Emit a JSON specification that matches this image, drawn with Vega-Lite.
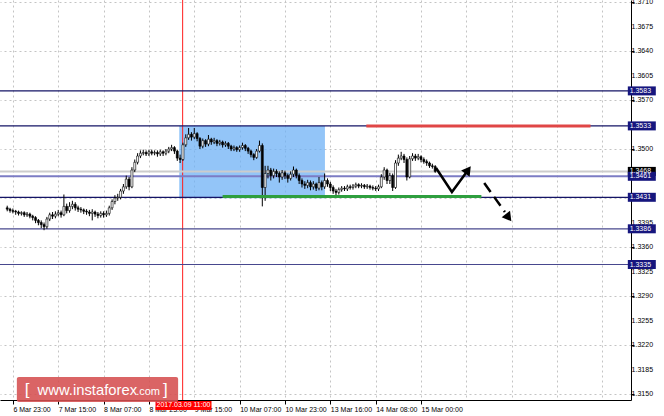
{
  "$schema": "https://vega.github.io/schema/vega-lite/v6.json",
  "width": 631,
  "height": 400,
  "autosize": {"type": "none"},
  "padding": {"left": 0, "top": 0, "right": 33, "bottom": 16},
  "background": "white",
  "config": {
    "view": {"stroke": null},
    "axis": {"title": null, "labelFont": "Liberation Sans", "labelFontSize": 7, "labelColor": "#000000", "domainColor": "#000000", "tickColor": "#000000", "gridColor": "#c4c4c4", "gridDash": [2, 3], "gridWidth": 1, "labelOverlap": false, "labelBound": false, "labelFlush": false}
  },
  "datasets": {
    "candles": [
      {"t":-2,"o":1.3416,"h":1.3419,"l":1.3411,"c":1.3414},
      {"t":-1,"o":1.3414,"h":1.3416,"l":1.3409,"c":1.3412},
      {"t":0,"o":1.3412,"h":1.3415,"l":1.3408,"c":1.3411},
      {"t":1,"o":1.3411,"h":1.3413,"l":1.3406,"c":1.3410},
      {"t":2,"o":1.3410,"h":1.3412,"l":1.3405,"c":1.3408},
      {"t":3,"o":1.3408,"h":1.3411,"l":1.3405,"c":1.3409},
      {"t":4,"o":1.3409,"h":1.3411,"l":1.3403,"c":1.3406},
      {"t":5,"o":1.3406,"h":1.3410,"l":1.3403,"c":1.3407},
      {"t":6,"o":1.3407,"h":1.3409,"l":1.3401,"c":1.3404},
      {"t":7,"o":1.3404,"h":1.3406,"l":1.3398,"c":1.3402},
      {"t":8,"o":1.3402,"h":1.3404,"l":1.3394,"c":1.3398},
      {"t":9,"o":1.3398,"h":1.3400,"l":1.3391,"c":1.3395},
      {"t":10,"o":1.3395,"h":1.3398,"l":1.3387,"c":1.3392},
      {"t":11,"o":1.3392,"h":1.3395,"l":1.3384,"c":1.3389},
      {"t":12,"o":1.3389,"h":1.3403,"l":1.3386,"c":1.3400},
      {"t":13,"o":1.3400,"h":1.3409,"l":1.3397,"c":1.3406},
      {"t":14,"o":1.3406,"h":1.3410,"l":1.3400,"c":1.3404},
      {"t":15,"o":1.3404,"h":1.3411,"l":1.3401,"c":1.3407},
      {"t":16,"o":1.3407,"h":1.3413,"l":1.3404,"c":1.3409},
      {"t":17,"o":1.3409,"h":1.3412,"l":1.3402,"c":1.3406},
      {"t":18,"o":1.3406,"h":1.3435,"l":1.3404,"c":1.3418},
      {"t":19,"o":1.3418,"h":1.3422,"l":1.3408,"c":1.3412},
      {"t":20,"o":1.3412,"h":1.3424,"l":1.3409,"c":1.3418},
      {"t":21,"o":1.3418,"h":1.3426,"l":1.3414,"c":1.3421},
      {"t":22,"o":1.3421,"h":1.3424,"l":1.3412,"c":1.3416},
      {"t":23,"o":1.3416,"h":1.3419,"l":1.3410,"c":1.3414},
      {"t":24,"o":1.3414,"h":1.3417,"l":1.3409,"c":1.3413},
      {"t":25,"o":1.3413,"h":1.3415,"l":1.3407,"c":1.3411},
      {"t":26,"o":1.3411,"h":1.3414,"l":1.3406,"c":1.3410},
      {"t":27,"o":1.3410,"h":1.3413,"l":1.3404,"c":1.3408},
      {"t":28,"o":1.3408,"h":1.3414,"l":1.3398,"c":1.3410},
      {"t":29,"o":1.3410,"h":1.3412,"l":1.3403,"c":1.3407},
      {"t":30,"o":1.3407,"h":1.3410,"l":1.3401,"c":1.3405},
      {"t":31,"o":1.3405,"h":1.3411,"l":1.3402,"c":1.3408},
      {"t":32,"o":1.3408,"h":1.3411,"l":1.3402,"c":1.3406},
      {"t":33,"o":1.3406,"h":1.3412,"l":1.3403,"c":1.3408},
      {"t":34,"o":1.3408,"h":1.3419,"l":1.3405,"c":1.3416},
      {"t":35,"o":1.3416,"h":1.3428,"l":1.3413,"c":1.3425},
      {"t":36,"o":1.3425,"h":1.3434,"l":1.3421,"c":1.3430},
      {"t":37,"o":1.3430,"h":1.3436,"l":1.3426,"c":1.3431},
      {"t":38,"o":1.3431,"h":1.3443,"l":1.3428,"c":1.3440},
      {"t":39,"o":1.3440,"h":1.3450,"l":1.3436,"c":1.3446},
      {"t":40,"o":1.3446,"h":1.3462,"l":1.3443,"c":1.3457},
      {"t":41,"o":1.3457,"h":1.3460,"l":1.3441,"c":1.3446},
      {"t":42,"o":1.3446,"h":1.3474,"l":1.3444,"c":1.3470},
      {"t":43,"o":1.3470,"h":1.3485,"l":1.3467,"c":1.3481},
      {"t":44,"o":1.3481,"h":1.3494,"l":1.3478,"c":1.3490},
      {"t":45,"o":1.3490,"h":1.3498,"l":1.3487,"c":1.3494},
      {"t":46,"o":1.3494,"h":1.3499,"l":1.3491,"c":1.3495},
      {"t":47,"o":1.3495,"h":1.3498,"l":1.3490,"c":1.3493},
      {"t":48,"o":1.3493,"h":1.3499,"l":1.3490,"c":1.3496},
      {"t":49,"o":1.3496,"h":1.3499,"l":1.3491,"c":1.3494},
      {"t":50,"o":1.3494,"h":1.3498,"l":1.3491,"c":1.3495},
      {"t":51,"o":1.3495,"h":1.3498,"l":1.3489,"c":1.3493},
      {"t":52,"o":1.3493,"h":1.3499,"l":1.3490,"c":1.3496},
      {"t":53,"o":1.3496,"h":1.3498,"l":1.3490,"c":1.3494},
      {"t":54,"o":1.3494,"h":1.3500,"l":1.3491,"c":1.3497},
      {"t":55,"o":1.3497,"h":1.3503,"l":1.3494,"c":1.3500},
      {"t":56,"o":1.3500,"h":1.3506,"l":1.3497,"c":1.3502},
      {"t":57,"o":1.3502,"h":1.3504,"l":1.3493,"c":1.3497},
      {"t":58,"o":1.3497,"h":1.3499,"l":1.3483,"c":1.3487},
      {"t":59,"o":1.3487,"h":1.3492,"l":1.3480,"c":1.3485},
      {"t":60,"o":1.3485,"h":1.3509,"l":1.3483,"c":1.3506},
      {"t":61,"o":1.3506,"h":1.3521,"l":1.3503,"c":1.3516},
      {"t":62,"o":1.3516,"h":1.3530,"l":1.3513,"c":1.3521},
      {"t":63,"o":1.3521,"h":1.3524,"l":1.3512,"c":1.3517},
      {"t":64,"o":1.3517,"h":1.3530,"l":1.3514,"c":1.3522},
      {"t":65,"o":1.3522,"h":1.3524,"l":1.3511,"c":1.3515},
      {"t":66,"o":1.3515,"h":1.3517,"l":1.3500,"c":1.3504},
      {"t":67,"o":1.3504,"h":1.3515,"l":1.3501,"c":1.3512},
      {"t":68,"o":1.3512,"h":1.3514,"l":1.3503,"c":1.3507},
      {"t":69,"o":1.3507,"h":1.3520,"l":1.3504,"c":1.3514},
      {"t":70,"o":1.3514,"h":1.3516,"l":1.3506,"c":1.3510},
      {"t":71,"o":1.3510,"h":1.3516,"l":1.3507,"c":1.3512},
      {"t":72,"o":1.3512,"h":1.3514,"l":1.3504,"c":1.3508},
      {"t":73,"o":1.3508,"h":1.3513,"l":1.3505,"c":1.3510},
      {"t":74,"o":1.3510,"h":1.3512,"l":1.3502,"c":1.3506},
      {"t":75,"o":1.3506,"h":1.3511,"l":1.3503,"c":1.3508},
      {"t":76,"o":1.3508,"h":1.3510,"l":1.3500,"c":1.3504},
      {"t":77,"o":1.3504,"h":1.3506,"l":1.3497,"c":1.3500},
      {"t":78,"o":1.3500,"h":1.3505,"l":1.3497,"c":1.3502},
      {"t":79,"o":1.3502,"h":1.3504,"l":1.3496,"c":1.3499},
      {"t":80,"o":1.3499,"h":1.3505,"l":1.3496,"c":1.3502},
      {"t":81,"o":1.3502,"h":1.3509,"l":1.3499,"c":1.3505},
      {"t":82,"o":1.3505,"h":1.3507,"l":1.3497,"c":1.3501},
      {"t":83,"o":1.3501,"h":1.3503,"l":1.3493,"c":1.3497},
      {"t":84,"o":1.3497,"h":1.3499,"l":1.3488,"c":1.3492},
      {"t":85,"o":1.3492,"h":1.3494,"l":1.3484,"c":1.3488},
      {"t":86,"o":1.3488,"h":1.3500,"l":1.3486,"c":1.3497},
      {"t":87,"o":1.3497,"h":1.3512,"l":1.3495,"c":1.3505},
      {"t":88,"o":1.3505,"h":1.3508,"l":1.3418,"c":1.3445},
      {"t":89,"o":1.3445,"h":1.3476,"l":1.3426,"c":1.3465},
      {"t":90,"o":1.3465,"h":1.3476,"l":1.3458,"c":1.3470},
      {"t":91,"o":1.3470,"h":1.3473,"l":1.3455,"c":1.3462},
      {"t":92,"o":1.3462,"h":1.3472,"l":1.3458,"c":1.3468},
      {"t":93,"o":1.3468,"h":1.3471,"l":1.3460,"c":1.3465},
      {"t":94,"o":1.3465,"h":1.3468,"l":1.3452,"c":1.3460},
      {"t":95,"o":1.3460,"h":1.3470,"l":1.3456,"c":1.3466},
      {"t":96,"o":1.3466,"h":1.3469,"l":1.3457,"c":1.3462},
      {"t":97,"o":1.3462,"h":1.3465,"l":1.3452,"c":1.3458},
      {"t":98,"o":1.3458,"h":1.3468,"l":1.3455,"c":1.3464},
      {"t":99,"o":1.3464,"h":1.3475,"l":1.3460,"c":1.3470},
      {"t":100,"o":1.3470,"h":1.3472,"l":1.3458,"c":1.3462},
      {"t":101,"o":1.3462,"h":1.3465,"l":1.3450,"c":1.3455},
      {"t":102,"o":1.3455,"h":1.3458,"l":1.3445,"c":1.3450},
      {"t":103,"o":1.3450,"h":1.3454,"l":1.3443,"c":1.3448},
      {"t":104,"o":1.3448,"h":1.3456,"l":1.3444,"c":1.3452},
      {"t":105,"o":1.3452,"h":1.3455,"l":1.3441,"c":1.3446},
      {"t":106,"o":1.3446,"h":1.3454,"l":1.3442,"c":1.3450},
      {"t":107,"o":1.3450,"h":1.3452,"l":1.3440,"c":1.3444},
      {"t":108,"o":1.3444,"h":1.3460,"l":1.3441,"c":1.3452},
      {"t":109,"o":1.3452,"h":1.3455,"l":1.3441,"c":1.3446},
      {"t":110,"o":1.3446,"h":1.3465,"l":1.3443,"c":1.3455},
      {"t":111,"o":1.3455,"h":1.3458,"l":1.3446,"c":1.3450},
      {"t":112,"o":1.3450,"h":1.3453,"l":1.3440,"c":1.3445},
      {"t":113,"o":1.3445,"h":1.3448,"l":1.3436,"c":1.3440},
      {"t":114,"o":1.3440,"h":1.3443,"l":1.3433,"c":1.3438},
      {"t":115,"o":1.3438,"h":1.3445,"l":1.3435,"c":1.3442},
      {"t":116,"o":1.3442,"h":1.3447,"l":1.3439,"c":1.3444},
      {"t":117,"o":1.3444,"h":1.3447,"l":1.3440,"c":1.3443},
      {"t":118,"o":1.3443,"h":1.3449,"l":1.3440,"c":1.3446},
      {"t":119,"o":1.3446,"h":1.3449,"l":1.3442,"c":1.3445},
      {"t":120,"o":1.3445,"h":1.3450,"l":1.3442,"c":1.3447},
      {"t":121,"o":1.3447,"h":1.3452,"l":1.3444,"c":1.3449},
      {"t":122,"o":1.3449,"h":1.3451,"l":1.3444,"c":1.3447},
      {"t":123,"o":1.3447,"h":1.3451,"l":1.3444,"c":1.3448},
      {"t":124,"o":1.3448,"h":1.3450,"l":1.3443,"c":1.3446},
      {"t":125,"o":1.3446,"h":1.3450,"l":1.3443,"c":1.3447},
      {"t":126,"o":1.3447,"h":1.3449,"l":1.3442,"c":1.3445},
      {"t":127,"o":1.3445,"h":1.3448,"l":1.3441,"c":1.3444},
      {"t":128,"o":1.3444,"h":1.3447,"l":1.3440,"c":1.3443},
      {"t":129,"o":1.3443,"h":1.3449,"l":1.3440,"c":1.3446},
      {"t":130,"o":1.3446,"h":1.3464,"l":1.3444,"c":1.3460},
      {"t":131,"o":1.3460,"h":1.3474,"l":1.3456,"c":1.3470},
      {"t":132,"o":1.3470,"h":1.3472,"l":1.3450,"c":1.3455},
      {"t":133,"o":1.3455,"h":1.3466,"l":1.3450,"c":1.3462},
      {"t":134,"o":1.3462,"h":1.3465,"l":1.3440,"c":1.3445},
      {"t":135,"o":1.3445,"h":1.3484,"l":1.3443,"c":1.3480},
      {"t":136,"o":1.3480,"h":1.3492,"l":1.3476,"c":1.3487},
      {"t":137,"o":1.3487,"h":1.3496,"l":1.3484,"c":1.3490},
      {"t":138,"o":1.3490,"h":1.3493,"l":1.3480,"c":1.3485},
      {"t":139,"o":1.3485,"h":1.3488,"l":1.3455,"c":1.3460},
      {"t":140,"o":1.3460,"h":1.3490,"l":1.3458,"c":1.3486},
      {"t":141,"o":1.3486,"h":1.3494,"l":1.3483,"c":1.3490},
      {"t":142,"o":1.3490,"h":1.3493,"l":1.3483,"c":1.3487},
      {"t":143,"o":1.3487,"h":1.3493,"l":1.3484,"c":1.3489},
      {"t":144,"o":1.3489,"h":1.3491,"l":1.3481,"c":1.3485},
      {"t":145,"o":1.3485,"h":1.3488,"l":1.3479,"c":1.3482},
      {"t":146,"o":1.3482,"h":1.3485,"l":1.3476,"c":1.3480},
      {"t":147,"o":1.3480,"h":1.3482,"l":1.3473,"c":1.3476},
      {"t":148,"o":1.3476,"h":1.3479,"l":1.3472,"c":1.3475},
      {"t":149,"o":1.3475,"h":1.3477,"l":1.3466,"c":1.3468}
    ],
    "yticks": [
      {"v":1.3150},{"v":1.3185},{"v":1.3220},{"v":1.3255},{"v":1.3290},{"v":1.3325},{"v":1.3360},{"v":1.3395},
      {"v":1.3500},{"v":1.3570},{"v":1.3605},{"v":1.3640},{"v":1.3675},{"v":1.3710}
    ],
    "levels": [
      {"p":1.3583,"lbl":"1.3583","k":"L1"},
      {"p":1.3533,"lbl":"1.3533","k":"L1"},
      {"p":1.3468,"lbl":"1.3468","k":"bid"},
      {"p":1.3461,"lbl":"1.3461","k":"L2"},
      {"p":1.3431,"lbl":"1.3431","k":"L1"},
      {"p":1.3386,"lbl":"1.3386","k":"L3"},
      {"p":1.3335,"lbl":"1.3335","k":"L3"}
    ],
    "segs": [
      {"k":"r","x1":124.7,"x2":203.8,"p":1.3533},
      {"k":"g","x1":74.0,"x2":165.3,"p":1.3432}
    ],
    "arrowUp": [
      {"i":1,"t":149.3,"p":1.34729},
      {"i":2,"t":154.9,"p":1.34386},
      {"i":3,"t":160.1,"p":1.34671}
    ],
    "arrowDown": [
      {"i":1,"t":166.3,"p":1.34514},
      {"i":2,"t":173.6,"p":1.34100}
    ],
    "one": [{}]
  },
  "layer": [
    {
      "data": {"name": "one"},
      "mark": {"type": "rect", "color": "#6fb1f6", "opacity": 0.75},
      "encoding": {
        "x": {"datum": 58.7, "scale": {"domain": [-2.78, 216.32], "nice": false, "zero": false}},
        "x2": {"datum": 110.1},
        "y": {"datum": 1.3533, "scale": {"domain": [1.314143, 1.371286], "nice": false, "zero": false}},
        "y2": {"datum": 1.34295}
      }
    },
    {
      "data": {"name": "one"},
      "mark": {"type": "rule", "color": "#ff1e1e", "strokeWidth": 1},
      "encoding": {
        "x": {"datum": 59.9, "scale": {"domain": [-2.78, 216.32], "nice": false, "zero": false}}
      }
    },
    {
      "data": {"name": "levels"},
      "mark": {"type": "rule"},
      "encoding": {
        "y": {"field": "p", "type": "quantitative", "scale": {"domain": [1.314143, 1.371286], "nice": false, "zero": false}},
        "color": {"condition": [{"test": "datum.k === 'L2'", "value": "#7c7cc4"}, {"test": "datum.k === 'bid'", "value": "#cccccc"}, {"test": "datum.k === 'L3'", "value": "#48488e"}], "value": "#141466"},
        "strokeWidth": {"condition": [{"test": "datum.k === 'L2'", "value": 2}, {"test": "datum.k === 'bid'", "value": 2}], "value": 1.2}
      }
    },
    {
      "data": {"name": "candles"},
      "mark": {"type": "rule", "color": "#000000", "strokeWidth": 1},
      "encoding": {
        "x": {"field": "t", "type": "quantitative", "scale": {"domain": [-2.78, 216.32], "nice": false, "zero": false},
          "axis": {
            "orient": "bottom",
            "values": [0,8,16,24,32,40,48,56,64,72,80,88,96,104,112,120,128,136,144,152,160,168,176,184,192,200,208,216],
            "labelExpr": "(datum.value % 16 === 0 && datum.value <= 144) ? ['6 Mar 23:00','7 Mar 15:00','8 Mar 07:00','8 Mar 23:00','9 Mar 15:00','10 Mar 07:00','10 Mar 23:00','13 Mar 16:00','14 Mar 08:00','15 Mar 00:00'][datum.value / 16] : ''",
            "grid": true,
            "tickSize": 4,
            "tickOpacity": {"condition": {"test": "datum.value % 16 === 0 && datum.value <= 144", "value": 1}, "value": 0},
            "labelAlign": "left",
            "labelBaseline": "top",
            "labelPadding": 1
          }
        },
        "y": {"field": "l", "type": "quantitative", "scale": {"domain": [1.314143, 1.371286], "nice": false, "zero": false},
          "axis": {
            "orient": "right",
            "values": [1.315, 1.3185, 1.322, 1.3255, 1.329, 1.3325, 1.336, 1.3395, 1.343, 1.3465, 1.35, 1.3535, 1.357, 1.3605, 1.364, 1.3675, 1.371],
            "labels": false,
            "grid": true,
            "tickSize": 3
          }
        },
        "y2": {"field": "h"}
      }
    },
    {
      "data": {"name": "candles"},
      "mark": {"type": "bar", "size": 2, "stroke": "#000000", "strokeWidth": 0.6},
      "encoding": {
        "x": {"field": "t", "type": "quantitative", "scale": {"domain": [-2.78, 216.32], "nice": false, "zero": false}},
        "y": {"field": "o", "type": "quantitative", "scale": {"domain": [1.314143, 1.371286], "nice": false, "zero": false}},
        "y2": {"field": "c"},
        "fill": {"condition": {"test": "datum.c >= datum.o", "value": "#ffffff"}, "value": "#000000"}
      }
    },
    {
      "data": {"name": "segs"},
      "mark": {"type": "rule", "strokeWidth": 3},
      "encoding": {
        "x": {"field": "x1", "type": "quantitative", "scale": {"domain": [-2.78, 216.32], "nice": false, "zero": false}},
        "x2": {"field": "x2"},
        "y": {"field": "p", "type": "quantitative", "scale": {"domain": [1.314143, 1.371286], "nice": false, "zero": false}},
        "color": {"condition": {"test": "datum.k === 'r'", "value": "#e04646"}, "value": "#2e9e3e"}
      }
    },
    {
      "data": {"name": "arrowUp"},
      "mark": {"type": "line", "color": "#000000", "strokeWidth": 2.5},
      "encoding": {
        "x": {"field": "t", "type": "quantitative", "scale": {"domain": [-2.78, 216.32], "nice": false, "zero": false}},
        "y": {"field": "p", "type": "quantitative", "scale": {"domain": [1.314143, 1.371286], "nice": false, "zero": false}},
        "order": {"field": "i"}
      }
    },
    {
      "data": {"name": "arrowDown"},
      "mark": {"type": "line", "color": "#000000", "strokeWidth": 2.5, "strokeDash": [11, 6]},
      "encoding": {
        "x": {"field": "t", "type": "quantitative", "scale": {"domain": [-2.78, 216.32], "nice": false, "zero": false}},
        "y": {"field": "p", "type": "quantitative", "scale": {"domain": [1.314143, 1.371286], "nice": false, "zero": false}},
        "order": {"field": "i"}
      }
    },
    {
      "data": {"name": "one"},
      "mark": {"type": "point", "shape": "triangle-up", "angle": 36, "size": 110, "filled": true, "color": "#000000", "opacity": 1},
      "encoding": {
        "x": {"datum": 160.6, "scale": {"domain": [-2.78, 216.32], "nice": false, "zero": false}},
        "y": {"datum": 1.34700, "scale": {"domain": [1.314143, 1.371286], "nice": false, "zero": false}}
      }
    },
    {
      "data": {"name": "one"},
      "mark": {"type": "point", "shape": "triangle-up", "angle": 143, "size": 110, "filled": true, "color": "#000000", "opacity": 1},
      "encoding": {
        "x": {"datum": 174.9, "scale": {"domain": [-2.78, 216.32], "nice": false, "zero": false}},
        "y": {"datum": 1.34020, "scale": {"domain": [1.314143, 1.371286], "nice": false, "zero": false}}
      }
    },
    {
      "data": {"name": "yticks"},
      "mark": {"type": "text", "align": "left", "baseline": "middle", "font": "Liberation Sans", "fontSize": 7, "color": "#000000"},
      "encoding": {
        "x": {"datum": 218.3, "scale": {"domain": [-2.78, 216.32], "nice": false, "zero": false}},
        "y": {"field": "v", "type": "quantitative", "scale": {"domain": [1.314143, 1.371286], "nice": false, "zero": false}},
        "text": {"field": "v", "type": "quantitative", "format": ".4f"}
      }
    },
    {
      "data": {"name": "levels"},
      "mark": {"type": "tick", "orient": "horizontal", "size": 28, "thickness": 9, "opacity": 1},
      "encoding": {
        "x": {"datum": 221.9, "scale": {"domain": [-2.78, 216.32], "nice": false, "zero": false}},
        "y": {"field": "p", "type": "quantitative", "scale": {"domain": [1.314143, 1.371286], "nice": false, "zero": false}},
        "color": {"condition": {"test": "datum.k === 'bid'", "value": "#000000"}, "value": "#16167e"}
      }
    },
    {
      "data": {"name": "levels"},
      "mark": {"type": "text", "align": "left", "baseline": "middle", "font": "Liberation Sans", "fontSize": 7, "color": "#ffffff"},
      "encoding": {
        "x": {"datum": 217.6, "scale": {"domain": [-2.78, 216.32], "nice": false, "zero": false}},
        "y": {"field": "p", "type": "quantitative", "scale": {"domain": [1.314143, 1.371286], "nice": false, "zero": false}},
        "text": {"field": "lbl"}
      }
    },
    {
      "data": {"name": "one"},
      "mark": {"type": "tick", "orient": "horizontal", "size": 56, "thickness": 9, "opacity": 1, "color": "#ff0000"},
      "encoding": {
        "x": {"datum": 60.2, "scale": {"domain": [-2.78, 216.32], "nice": false, "zero": false}},
        "y": {"datum": 1.31336, "scale": {"domain": [1.314143, 1.371286], "nice": false, "zero": false}}
      }
    },
    {
      "data": {"name": "one"},
      "mark": {"type": "text", "align": "center", "baseline": "middle", "font": "Liberation Sans", "fontSize": 7, "color": "#ffffff", "text": "2017.03.09 11:00"},
      "encoding": {
        "x": {"datum": 60.2, "scale": {"domain": [-2.78, 216.32], "nice": false, "zero": false}},
        "y": {"datum": 1.31336, "scale": {"domain": [1.314143, 1.371286], "nice": false, "zero": false}}
      }
    },
    {
      "data": {"name": "one"},
      "mark": {"type": "rect", "color": "#d54e50", "opacity": 0.88, "cornerRadius": 2},
      "encoding": {
        "x": {"datum": 1.4, "scale": {"domain": [-2.78, 216.32], "nice": false, "zero": false}},
        "x2": {"datum": 58.3},
        "y": {"datum": 1.31743, "scale": {"domain": [1.314143, 1.371286], "nice": false, "zero": false}},
        "y2": {"datum": 1.31386}
      }
    },
    {
      "data": {"name": "one"},
      "mark": {"type": "text", "align": "left", "baseline": "alphabetic", "font": "Liberation Sans", "fontSize": 17, "color": "#ffffff", "text": "["},
      "encoding": {
        "x": {"datum": 4.2, "scale": {"domain": [-2.78, 216.32], "nice": false, "zero": false}},
        "y": {"datum": 1.31485, "scale": {"domain": [1.314143, 1.371286], "nice": false, "zero": false}}
      }
    },
    {
      "data": {"name": "one"},
      "mark": {"type": "text", "align": "left", "baseline": "alphabetic", "font": "Liberation Sans", "fontSize": 14.8, "color": "#ffffff", "text": "www.instaforex"},
      "encoding": {
        "x": {"datum": 8.7, "scale": {"domain": [-2.78, 216.32], "nice": false, "zero": false}},
        "y": {"datum": 1.31485, "scale": {"domain": [1.314143, 1.371286], "nice": false, "zero": false}}
      }
    },
    {
      "data": {"name": "one"},
      "mark": {"type": "text", "align": "left", "baseline": "alphabetic", "font": "Liberation Sans", "fontSize": 11, "color": "#ffffff", "text": ".com"},
      "encoding": {
        "x": {"datum": 43.5, "scale": {"domain": [-2.78, 216.32], "nice": false, "zero": false}},
        "y": {"datum": 1.31485, "scale": {"domain": [1.314143, 1.371286], "nice": false, "zero": false}}
      }
    },
    {
      "data": {"name": "one"},
      "mark": {"type": "text", "align": "left", "baseline": "alphabetic", "font": "Liberation Sans", "fontSize": 17, "color": "#ffffff", "text": "]"},
      "encoding": {
        "x": {"datum": 53.0, "scale": {"domain": [-2.78, 216.32], "nice": false, "zero": false}},
        "y": {"datum": 1.31485, "scale": {"domain": [1.314143, 1.371286], "nice": false, "zero": false}}
      }
    }
  ]
}
